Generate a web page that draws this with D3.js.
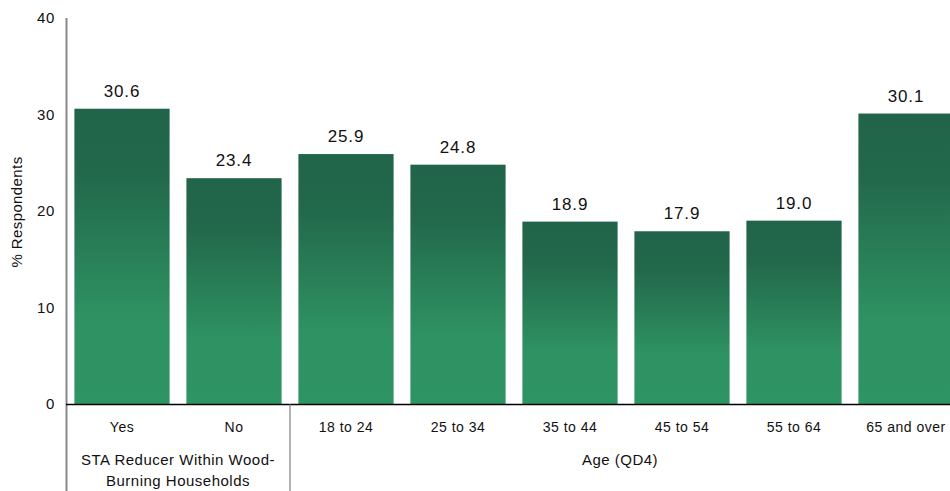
<!DOCTYPE html>
<html><head><meta charset="utf-8">
<script src="https://cdn.jsdelivr.net/npm/d3@7/dist/d3.min.js"></script>
<style>body{margin:0;background:#fff;overflow:hidden}svg{display:block}text{font-family:"Liberation Sans",Arial,sans-serif;fill:#111}</style>
</head><body>
<script>
const categories = ["Yes","No","18 to 24","25 to 34","35 to 44","45 to 54","55 to 64","65 and over"];
const values = [30.6,23.4,25.9,24.8,18.9,17.9,19.0,30.1];
const yTicks = [0,10,20,30,40];
const groups = [
  {label:["STA Reducer Within Wood-","Burning Households"], from:0, to:1},
  {label:["Age (QD4)"], from:2, to:7}
];

const W=950,H=491;
const svg=d3.select("body").append("svg").attr("width",W).attr("height",H);
const x=d3.scaleBand().domain(categories).range([66,962]).paddingInner(0.15).paddingOuter(0.075);
const y=d3.scaleLinear().domain([0,40]).range([404,18]);

const defs=svg.append("defs");
const g=defs.append("linearGradient").attr("id","grad").attr("x1",0).attr("y1",0).attr("x2",0).attr("y2",1);
[[0,"#21644a"],[0.22,"#22684b"],[0.7,"#2e9162"],[1,"#2f9464"]].forEach(s=>g.append("stop").attr("offset",s[0]).attr("stop-color",s[1]));

svg.selectAll("rect.bar").data(values).join("rect").attr("class","bar")
  .attr("x",(d,i)=>x(categories[i])).attr("width",x.bandwidth())
  .attr("y",d=>y(d)).attr("height",d=>y(0)-y(d)).attr("fill","url(#grad)");

svg.selectAll("text.val").data(values).join("text").attr("class","val")
  .attr("x",(d,i)=>x(categories[i])+x.bandwidth()/2).attr("y",d=>y(d)-12)
  .attr("text-anchor","middle").style("font-size","17px").style("letter-spacing","0.8px").text(d=>d.toFixed(1));

// y axis
svg.append("line").attr("x1",66.5).attr("x2",66.5).attr("y1",18).attr("y2",491).attr("stroke","#888").attr("stroke-width",2);
svg.selectAll("text.yt").data(yTicks).join("text").attr("class","yt")
  .attr("x",55).attr("y",d=>y(d)).attr("dy","0.36em").attr("text-anchor","end").style("font-size","15px").style("letter-spacing","0.6px").text(d=>d);
svg.append("text").attr("transform","translate(22,212) rotate(-90)").attr("text-anchor","middle").style("font-size","15px").style("letter-spacing","0.4px").text("% Respondents");

// x axis
svg.append("line").attr("x1",66).attr("x2",W).attr("y1",404.5).attr("y2",404.5).attr("stroke","#000").attr("stroke-width",1.5);
svg.selectAll("text.cat").data(categories).join("text").attr("class","cat")
  .attr("x",d=>x(d)+x.bandwidth()/2).attr("y",432).attr("text-anchor","middle").style("font-size","14px").style("letter-spacing","0.5px").text(d=>d);

// group separators & labels
groups.forEach((gr,i)=>{
  const x0=x(categories[gr.from])-x.step()*x.paddingInner()/2;
  const x1=Math.min(W, x(categories[gr.to])+x.bandwidth()+x.step()*x.paddingInner()/2);
  const left = gr.from===0 ? 66 : x0;
  const cx=(left+x1)/2;
  gr.label.forEach((l,j)=>svg.append("text").attr("x",cx).attr("y",465+j*21).attr("text-anchor","middle").style("font-size","15px").style("letter-spacing","0.5px").text(l));
  if(i<groups.length-1){
    const sx=x(categories[gr.to])+x.bandwidth()+x.step()*x.paddingInner()/2;
    svg.append("line").attr("x1",sx).attr("x2",sx).attr("y1",404).attr("y2",491).attr("stroke","#666").attr("stroke-width",1);
  }
});
</script>
</body></html>
